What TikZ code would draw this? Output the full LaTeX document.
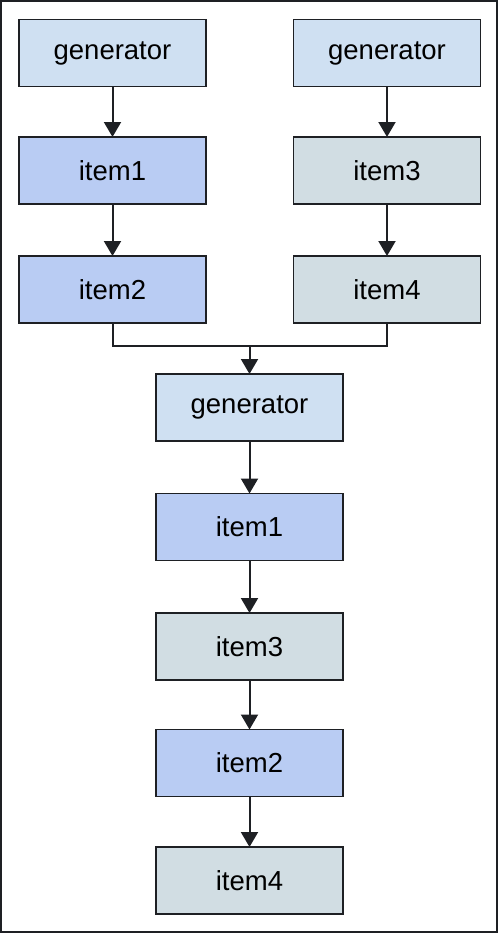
\documentclass[tikz,border=0pt]{standalone}
\usepackage{fontspec}
\setmainfont{Liberation Sans}
\usetikzlibrary{arrows.meta}
\definecolor{gencol}{RGB}{207,224,242}
\definecolor{bluecol}{RGB}{185,204,243}
\definecolor{graycol}{RGB}{209,221,227}
\definecolor{linecol}{RGB}{30,32,36}
\tikzset{
    box/.style={draw=linecol, line width=1.6, minimum width=187pt, minimum height=67pt,
        inner sep=0, outer sep=0, font=\fontsize{27.5}{32}\selectfont},
    genbox/.style={box, fill=gencol},
    bluebox/.style={box, fill=bluecol},
    graybox/.style={box, fill=graycol},
    flow/.style={draw=linecol, line width=2, -{Triangle[width=17pt,length=15pt]}}
}
\begin{document}
\begin{tikzpicture}[x=1pt, y=-1pt]
    \useasboundingbox (0, 0) rectangle (500, 934);
    \draw[line width=2.5, draw=linecol] (1, 1) rectangle (497, 932);

    % left chain
    \node[genbox] (genA) at (112.5, 53) {generator};
    \node[bluebox] (itemAa) at (112.5, 170.5) {item1};
    \node[bluebox] (itemAb) at (112.5, 289.5) {item2};

    % right chain
    \node[genbox] (genB) at (387, 53) {generator};
    \node[graybox] (itemBa) at (387, 170.5) {item3};
    \node[graybox] (itemBb) at (387, 289.5) {item4};

    % merged chain
    \node[genbox] (genC) at (249.5, 407.5) {generator};
    \node[bluebox] (itemC1) at (249.5, 527) {item1};
    \node[graybox] (itemC3) at (249.5, 646.5) {item3};
    \node[bluebox] (itemC2) at (249.5, 763) {item2};
    \node[graybox] (itemC4) at (249.5, 880.5) {item4};

    \draw[flow] (genA) -- (itemAa);
    \draw[flow] (itemAa) -- (itemAb);
    \draw[flow] (genB) -- (itemBa);
    \draw[flow] (itemBa) -- (itemBb);

    \coordinate (join) at (249.5, 346);
    \draw[draw=linecol, line width=2] (itemAb.south) |- (join) -| (itemBb.south);
    \draw[flow] (join) -- (genC);

    \draw[flow] (genC) -- (itemC1);
    \draw[flow] (itemC1) -- (itemC3);
    \draw[flow] (itemC3) -- (itemC2);
    \draw[flow] (itemC2) -- (itemC4);
\end{tikzpicture}
\end{document}
